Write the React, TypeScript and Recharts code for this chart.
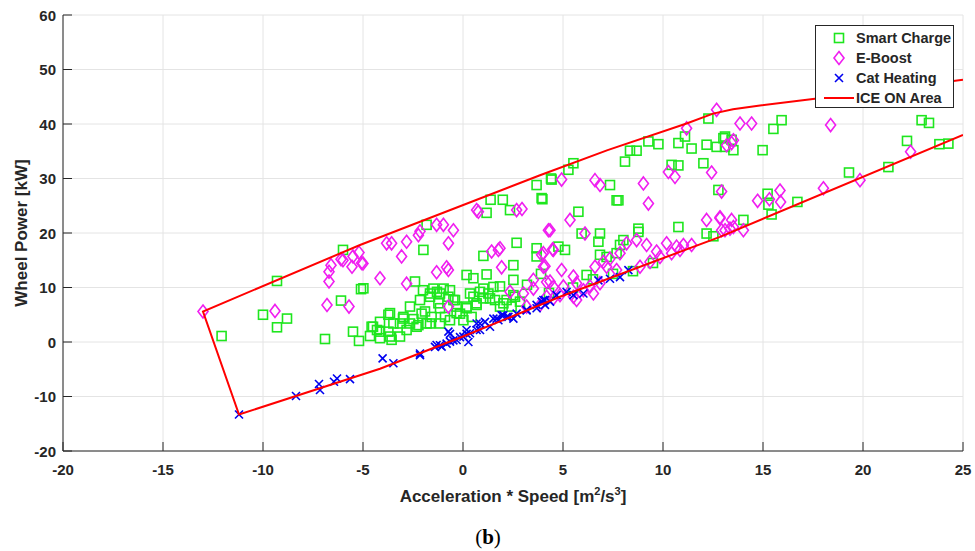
import React from 'react';
import { ScatterChart, Scatter, XAxis, YAxis, CartesianGrid } from 'recharts';

// [acceleration*speed, wheel power]
const smartCharge: [number, number][] = [
  [-12.07, 1.1], [-9.3, 11.2], [-10.0, 5.0], [-8.8, 4.3], [-9.3, 2.7], [-6.0, 16.9], [-6.1, 7.6], [-5.1, 9.7],
  [-6.9, 0.55], [-5.5, 1.9], [-5.2, 0.2], [-4.65, 1.1], [-4.5, 2.8], [-4.3, 2.2],
  [3.68, 28.8], [4.4, 30.0], [3.97, 26.2], [1.38, 26.1], [1.99, 26.1], [1.18, 23.7], [2.35, 24.2], [-1.82, 21.5],
  [-1.98, 16.9], [2.68, 18.2], [1.02, 15.8], [2.52, 14.1], [3.68, 17.2], [3.68, 15.7], [-4.98, 9.85], [-2.4, 11.1],
  [0.18, 12.3], [0.52, 11.7], [1.18, 12.4], [2.52, 11.4], [-2.0, 9.5], [-1.65, 8.9], [-1.3, 9.2], [-0.97, 9.8],
  [-4.57, 2.8], [-4.15, 1.9], [-3.73, 5.0], [-3.57, 0.4], [-3.15, 3.4], [-2.82, 2.2], [-2.48, 4.2], [-2.23, 3.1],
  [-2.07, 5.2], [-1.82, 3.4], [-1.57, 4.6], [-1.15, 6.2], [-0.9, 4.6], [-0.48, 7.7], [-0.32, 6.5], [-0.15, 5.2],
  [0.02, 4.0], [0.18, 6.5], [0.52, 8.3], [0.68, 6.8], [0.85, 9.2], [1.02, 8.0], [1.27, 8.9], [1.52, 10.1],
  [1.6, 7.7], [1.85, 6.5], [2.18, 7.7], [2.43, 6.5], [2.6, 8.3], [2.85, 7.4], [-1.65, 8.3], [-1.23, 7.1],
  [-0.73, 8.3], [-2.98, 4.6], [-4.15, 3.7], [-3.48, 3.4], [-1.15, 3.4], [-0.65, 4.0], [0.43, 4.6], [-2.65, 6.5],
  [-3.73, 1.9], [-3.65, 5.3], [-3.0, 4.3], [-2.65, 3.4], [-2.15, 7.7], [-1.9, 5.6], [-1.65, 3.4], [-1.48, 9.8],
  [-1.15, 8.9], [-0.65, 9.5], [-0.4, 7.7], [-0.32, 5.3], [0.18, 6.2], [0.35, 8.9], [0.68, 7.1], [1.02, 9.8],
  [1.35, 8.0], [1.85, 10.2], [2.02, 7.1], [2.52, 8.6], [-3.65, 1.0], [-4.15, 0.7], [-3.15, 1.0], [-2.32, 2.8],
  [3.2, 10.5], [3.9, 12.5], [4.3, 9.0],
  [9.27, 36.8], [9.77, 36.3], [10.77, 36.5], [11.43, 35.5], [12.18, 36.2], [12.68, 35.8], [13.1, 37.7], [13.43, 37.1],
  [13.52, 35.2], [8.35, 35.1], [8.68, 35.1], [8.1, 33.1], [5.52, 32.8], [5.27, 31.6], [4.43, 29.8], [3.93, 26.4],
  [7.35, 28.8], [7.68, 26.0], [7.77, 26.0], [10.43, 32.5], [10.77, 32.4], [12.02, 32.8], [12.77, 27.9], [5.77, 23.9],
  [5.93, 19.9], [6.85, 19.9], [6.77, 18.4], [8.77, 20.8], [8.77, 20.2], [10.77, 21.1], [12.18, 19.9], [12.52, 19.4],
  [4.77, 17.5], [5.1, 16.9], [8.02, 18.7], [7.85, 17.8], [7.68, 16.3], [6.18, 12.3], [6.85, 16.0], [7.18, 15.6],
  [12.27, 41.0], [11.1, 37.7], [8.5, 13.0], [9.5, 14.5], [7.5, 12.5], [5.5, 10.0], [6.5, 11.5],
  [22.93, 40.7], [23.3, 40.2], [15.93, 40.7], [15.52, 39.1], [13.02, 37.4], [13.1, 35.8], [14.98, 35.2], [22.2, 36.9],
  [23.82, 36.3], [24.27, 36.4], [19.3, 31.1], [21.27, 32.1], [15.23, 27.2], [15.27, 25.2], [15.43, 23.4], [16.72, 25.7],
  [14.02, 22.4],
];

const eBoost: [number, number][] = [
  [-13.0, 5.6], [-9.4, 5.7], [-6.1, 15.2], [-6.0, 15.0], [-6.6, 14.1], [-6.7, 12.9], [-6.7, 11.1], [-5.5, 15.7],
  [-5.2, 16.4], [-5.55, 13.8], [-5.0, 14.4], [-6.8, 6.8], [-5.7, 6.5],
  [0.68, 24.2], [0.77, 23.9], [2.68, 24.2], [2.95, 24.4], [-1.32, 21.5], [-0.98, 21.5], [-0.48, 20.5], [-2.15, 20.3],
  [-2.23, 19.6], [-3.82, 18.1], [-3.57, 18.1], [-2.82, 18.4], [-0.73, 18.1], [-3.07, 15.7], [-5.07, 14.5], [1.43, 16.6],
  [1.77, 16.9], [1.85, 17.2], [4.27, 20.5], [4.48, 17.0], [3.93, 16.0], [4.1, 13.9], [1.93, 13.7], [-0.82, 13.7],
  [-0.73, 13.2], [-1.32, 12.8], [-4.15, 11.7], [-2.82, 10.7], [-0.73, 6.5], [2.35, 9.2], [3.02, 8.9], [3.52, 9.8],
  [4.18, 11.0], [4.52, 10.1], [3.18, 6.5], [3.85, 6.8], [4.52, 8.0], [3.52, 11.4],
  [4.93, 29.8], [6.6, 29.7], [6.85, 28.8], [9.02, 29.1], [9.27, 25.4], [10.27, 31.2], [10.6, 30.3], [12.43, 31.1],
  [12.93, 27.6], [13.43, 36.5], [5.35, 22.4], [4.35, 20.5], [6.1, 19.9], [12.18, 22.4], [12.85, 22.7], [13.43, 22.4],
  [12.93, 20.5], [13.35, 20.8], [4.02, 16.3], [4.52, 16.9], [4.02, 13.8], [4.93, 13.2], [5.52, 12.0], [6.6, 13.8],
  [7.02, 14.7], [7.35, 15.3], [7.85, 16.3], [8.18, 18.1], [8.68, 18.7], [9.18, 17.8], [9.68, 16.6], [10.18, 18.1],
  [10.68, 17.5], [11.02, 17.8], [11.43, 17.8], [7.18, 13.8], [7.68, 13.2], [8.85, 13.8], [9.35, 14.7], [9.85, 15.6],
  [10.43, 16.3], [10.85, 16.9], [4.35, 11.1], [5.02, 10.2], [5.68, 10.8], [6.35, 10.2], [6.85, 10.8], [4.18, 8.3],
  [4.85, 8.6], [5.52, 8.3], [6.02, 9.5], [6.52, 8.9], [5.68, 7.7],
  [12.68, 42.6], [11.18, 39.2], [13.85, 40.1], [14.43, 40.1],
  [18.38, 39.8], [13.18, 36.1], [13.52, 37.0], [22.38, 34.9], [19.85, 29.7], [18.02, 28.2], [15.85, 27.8], [15.88, 25.7],
  [15.32, 26.2], [14.73, 25.9], [12.85, 22.9], [14.02, 20.5], [13.52, 21.1], [13.1, 20.5],
];

const catHeating: [number, number][] = [
  [-11.2, -13.3], [-8.35, -9.9], [-7.2, -7.7], [-7.15, -8.8], [-6.45, -7.3], [-6.3, -6.7], [-5.65, -6.8], [-4.02, -3.0],
  [-3.48, -3.9], [-2.15, -2.4], [-1.4, -0.9], [-1.15, -0.6], [-0.82, -0.3], [-0.65, 1.5], [-0.48, 0.3], [-0.15, 0.9],
  [0.18, 1.5], [0.27, 0.0], [0.68, 3.4], [0.85, 2.2], [1.1, 3.7], [1.35, 2.8], [1.52, 4.3], [1.77, 4.0],
  [2.02, 4.9], [2.27, 4.6], [2.52, 4.3], [3.18, 5.8], [3.68, 6.2], [3.93, 7.4], [4.1, 6.8], [4.35, 7.4],
  [4.68, 8.6], [4.1, 7.7], [5.18, 9.2], [5.52, 8.6], [6.02, 8.9], [6.77, 11.3], [7.35, 11.6], [7.85, 11.9],
  [8.27, 13.2], [-1.32, -0.55], [-1.07, -0.86], [-0.65, 0.06], [-0.32, 0.37], [0.02, 0.98], [0.35, 1.6], [0.68, 2.2],
  [0.85, 3.4], [1.68, 4.3], [1.93, 4.9], [2.18, 4.6], [2.68, 5.2], [3.18, 5.9], [3.68, 6.8], [4.02, 7.7],
  [-0.73, 1.9], [0.18, 2.2], [-2.15, -2.1],
];

// ICE ON operating area boundary (lower edge, then upper edge)
const iceOnArea: [number, number][] = [
  [25, 38.0], [12.85, 19.3], [4.85, 8.3], [0, 1.0], [-4.15, -4.9], [-11.2, -13.3],
  [-13.0, 5.6], [-5.15, 17.8], [3.85, 30.6], [7.23, 35.2], [11.18, 40.1], [12.5, 41.9],
  [13.5, 42.7], [14.85, 43.4], [17.7, 44.7], [25, 48.1],
];

const xTicks = [-20, -15, -10, -5, 0, 5, 10, 15, 20, 25];
const yTicks = [-20, -10, 0, 10, 20, 30, 40, 50, 60];

const toPoints = (arr: [number, number][]) => arr.map(([x, y]) => ({ x, y }));

const AXIS = '#262626';
const GREEN = '#1ee61e';
const MAGENTA = '#f01ef0';
const BLUE = '#0000f0';
const RED = '#ff0000';
const FONT = '"Liberation Sans", Arial, sans-serif';

const Square = ({ cx, cy }: any) => (
  <rect x={cx - 4.5} y={cy - 4.5} width={9} height={9} fill="none" stroke={GREEN} strokeWidth={1.6} />
);
const Diamond = ({ cx, cy }: any) => (
  <path d={`M${cx},${cy - 6.5}L${cx + 5},${cy}L${cx},${cy + 6.5}L${cx - 5},${cy}Z`} fill="none" stroke={MAGENTA} strokeWidth={1.6} />
);
const Cross = ({ cx, cy }: any) => (
  <path d={`M${cx - 4},${cy - 4}L${cx + 4},${cy + 4}M${cx - 4},${cy + 4}L${cx + 4},${cy - 4}`} stroke={BLUE} strokeWidth={1.6} />
);

const BottomTick = ({ x, y, payload }: any) => (
  <g>
    <line x1={x} x2={x} y1={y} y2={y - 9} stroke={AXIS} />
    <text x={x} y={y + 24} textAnchor="middle" fill={AXIS} fontSize={15} fontWeight="bold" fontFamily={FONT}>{payload.value}</text>
  </g>
);
const TopTick = ({ x, y }: any) => <line x1={x} x2={x} y1={y} y2={y + 9} stroke={AXIS} />;
const LeftTick = ({ x, y, payload }: any) => (
  <g>
    <line x1={x} x2={x + 9} y1={y} y2={y} stroke={AXIS} />
    <text x={x - 7} y={y + 5.5} textAnchor="end" fill={AXIS} fontSize={15} fontWeight="bold" fontFamily={FONT}>{payload.value}</text>
  </g>
);
const RightTick = ({ x, y }: any) => <line x1={x} x2={x - 9} y1={y} y2={y} stroke={AXIS} />;

const legendItems = [
  { label: 'Smart Charge', kind: 'square' },
  { label: 'E-Boost', kind: 'diamond' },
  { label: 'Cat Heating', kind: 'cross' },
  { label: 'ICE ON Area', kind: 'line' },
];

const LegendBox = () => (
  <div style={{ position: 'absolute', left: 815, top: 25, width: 137, height: 81, border: `1px solid ${AXIS}`, background: '#fff', fontFamily: FONT }}>
    {legendItems.map((it, i) => (
      <div key={it.label} style={{ position: 'absolute', left: 0, top: 2 + i * 20, height: 20, width: 137, display: 'flex', alignItems: 'center' }}>
        <svg width={40} height={20} style={{ flex: 'none' }}>
          {it.kind === 'square' && <Square cx={23} cy={10} />}
          {it.kind === 'diamond' && <Diamond cx={23} cy={10} />}
          {it.kind === 'cross' && <Cross cx={23} cy={10} />}
          {it.kind === 'line' && <line x1={8} x2={38} y1={10} y2={10} stroke={RED} strokeWidth={2} />}
        </svg>
        <span style={{ fontSize: 14.5, fontWeight: 'bold', color: AXIS, whiteSpace: 'nowrap' }}>{it.label}</span>
      </div>
    ))}
  </div>
);

export default function App() {
  return (
    <div style={{ position: 'absolute', left: 0, top: 0, width: 975, height: 551, background: '#fff', fontFamily: FONT }}>
      <ScatterChart width={975} height={500} margin={{ top: 15, right: 12, bottom: 0, left: 0 }}>
        <CartesianGrid stroke="#e4e4e4" strokeWidth={1} />
        <XAxis type="number" dataKey="x" domain={[-20, 25]} ticks={xTicks} interval={0} height={49}
          axisLine={{ stroke: AXIS }} tickLine={false} tickSize={0} tickMargin={0} tick={<BottomTick />} allowDataOverflow />
        <XAxis type="number" xAxisId="top" orientation="top" domain={[-20, 25]} ticks={xTicks} interval={0} height={0}
          axisLine={{ stroke: AXIS }} tickLine={false} tickSize={0} tickMargin={0} tick={<TopTick />} />
        <YAxis type="number" dataKey="y" domain={[-20, 60]} ticks={yTicks} interval={0} width={63}
          axisLine={{ stroke: AXIS }} tickLine={false} tickSize={0} tickMargin={0} tick={<LeftTick />} allowDataOverflow />
        <YAxis type="number" yAxisId="right" orientation="right" domain={[-20, 60]} ticks={yTicks} interval={0} width={0}
          axisLine={{ stroke: AXIS }} tickLine={false} tickSize={0} tickMargin={0} tick={<RightTick />} />
        <Scatter name="Smart Charge" data={toPoints(smartCharge)} shape={(p: any) => <Square {...p} />} isAnimationActive={false} />
        <Scatter name="E-Boost" data={toPoints(eBoost)} shape={(p: any) => <Diamond {...p} />} isAnimationActive={false} />
        <Scatter name="Cat Heating" data={toPoints(catHeating)} shape={(p: any) => <Cross {...p} />} isAnimationActive={false} />
        <Scatter name="ICE ON Area" data={toPoints(iceOnArea)} line={{ stroke: RED, strokeWidth: 2 }} lineType="joint"
          shape={() => <g />} isAnimationActive={false} />
      </ScatterChart>
      <div style={{ position: 'absolute', left: 63, width: 900, top: 485, textAlign: 'center', fontSize: 17, fontWeight: 'bold', color: AXIS }}>
        Acceleration * Speed [m<sup style={{ fontSize: 11 }}>2</sup>/s<sup style={{ fontSize: 11 }}>3</sup>]
      </div>
      <div style={{ position: 'absolute', left: 22, top: 233, transform: 'translate(-50%, -50%) rotate(-90deg)', fontSize: 17, fontWeight: 'bold', color: AXIS, whiteSpace: 'nowrap' }}>
        Wheel Power [kW]
      </div>
      <div style={{ position: 'absolute', left: 448, width: 80, top: 525, textAlign: 'center', fontFamily: '"Liberation Serif", "Times New Roman", serif', fontSize: 21, color: '#000' }}>
        (<b>b</b>)
      </div>
      <LegendBox />
    </div>
  );
}
